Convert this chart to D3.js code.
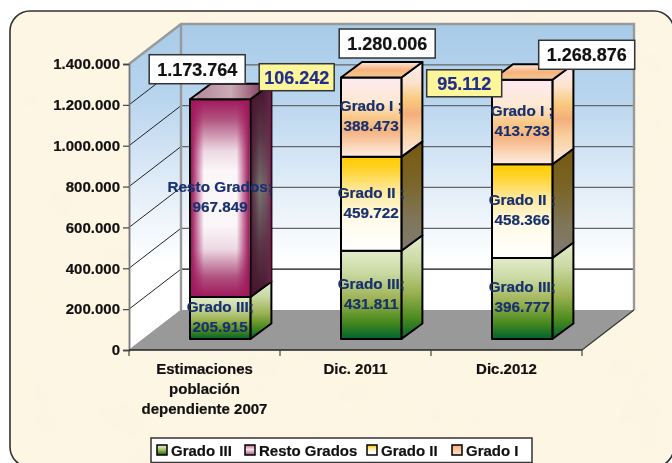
<!DOCTYPE html>
<html><head><meta charset="utf-8">
<script src="https://cdn.jsdelivr.net/npm/d3@7"></script>
<style>html,body{margin:0;padding:0;background:#fff;overflow:hidden}svg{display:block;font-family:"Liberation Sans",Arial,sans-serif;font-weight:bold;filter:blur(0.35px)}svg text{stroke:currentColor;stroke-width:0.2px;paint-order:stroke}</style>
</head><body>
<svg id="c" width="672" height="463"></svg>
<script>
// ---- data ----
const categories = ["Estimaciones población dependiente 2007", "Dic. 2011", "Dic.2012"];
const categoryLines = [["Estimaciones", "población", "dependiente 2007"], ["Dic. 2011"], ["Dic.2012"]];
const seriesNames = ["Grado III", "Resto Grados", "Grado II", "Grado I"];
const labelNames = ["Grado III;", "Resto Grados;", "Grado II ;", "Grado I ;"];
const gradoIII = [205915, 431811, 396777];
const restoGrados = [967849, 0, 0];
const gradoII = [0, 459722, 458366];
const gradoI = [0, 388473, 413733];
const totals = ["1.173.764", "1.280.006", "1.268.876"];
const differences = ["106.242", "", "95.112"];
const yTicks = [0, 200000, 400000, 600000, 800000, 1000000, 1200000, 1400000];

// ---- layout ----
const W = 672, H = 463;
const plot = {left: 129, right: 582, bottom: 350, top: 64};
const wall = {dx: 52, dy: -40};
const barOffset = {dx: 15.7, dy: -11};
const barDepth = {dx: 21, dy: -15.5};
const totalBox = {w: 96, h: 29, dx: [-23, 16, 64.5], dy: [-30, -34, -25]};
const diffBox = {w: 75, h: 27, dx: [76.5, 0, -58], dy: [-22, 0, 3.5]};

const svg = d3.select("#c");
const defs = svg.append("defs");
function grad(id, stops, o) {
  o = Object.assign({x1: 0, y1: 0, x2: 0, y2: 1}, o || {});
  const g = defs.append("linearGradient").attr("id", id);
  for (const k of ["x1", "y1", "x2", "y2"]) g.attr(k, o[k]);
  if (o.user) g.attr("gradientUnits", "userSpaceOnUse");
  stops.forEach(s => g.append("stop").attr("offset", s[0]).attr("stop-color", s[1]).attr("stop-opacity", s[2] === undefined ? 1 : s[2]));
}
grad("wallG", [[0, "#a8cbe8"], [0.3, "#b9d5ee"], [0.65, "#e2edf8"], [0.95, "#ffffff"], [1, "#ffffff"]], {user: 1, x1: 0, y1: 25, x2: 0, y2: 275});
grad("f0", [[0, "#e2ecca"], [0.25, "#cbd9a4"], [0.55, "#9cb252"], [0.8, "#4a8a1e"], [1, "#00632f"]]);
grad("f1", [[0, "#a0175c"], [0.1, "#b0527f"], [0.26, "#ecd8e2"], [0.36, "#fbf6f8"], [0.64, "#fbf6f8"], [0.76, "#ecd8e2"], [0.9, "#b0527f"], [1, "#a0175c"]]);
grad("f1o", [[0, "#a0175c", 1], [0.05, "#a0175c", 0.8], [0.22, "#a0175c", 0], [0.78, "#a0175c", 0], [0.95, "#a0175c", 0.8], [1, "#a0175c", 1]], {x2: 1, y2: 0});
grad("s1", [[0, "#43142c"], [0.25, "#5a3a48"], [0.5, "#7a7672"], [0.75, "#5a3a48"], [1, "#43142c"]]);
grad("s1o", [[0, "#4a1430", 0.9], [0.45, "#4a1430", 0], [0.75, "#6e2048", 0.3], [1, "#7a2050", 0.9]], {x2: 1, y2: 0});
grad("t1", [[0, "#ffffff"], [0.1, "#b58aa0"], [0.5, "#c9acb4"], [0.85, "#8e4a68"], [1, "#a0175c"]], {x2: 1, y2: 0});
grad("f2", [[0, "#ffcc00"], [0.12, "#ffd227"], [0.35, "#fee89a"], [0.65, "#fffbe8"], [1, "#ffffff"]]);
grad("s2", [[0, "#75590f"], [0.35, "#7a6426"], [0.7, "#7f7658"], [1, "#807a70"]]);
grad("f3", [[0, "#fdeaf3"], [0.3, "#fde9d2"], [0.5, "#f9c98a"], [0.68, "#f5b382"], [0.88, "#fbd9bc"], [1, "#fdebe6"]]);
grad("s3", [[0, "#fdeaf3"], [0.22, "#fce3cc"], [0.4, "#f9c97c"], [0.55, "#f4ae7c"], [0.72, "#f9cf9e"], [1, "#fdeae0"]]);
grad("t3", [[0, "#fde8e0"], [0.5, "#f6b27c"], [1, "#f5ca94"]]);
grad("leg1", [[0, "#c06d98"], [0.45, "#f6e0ea"], [1, "#b04f82"]]);
grad("leg3", [[0, "#f5ad76"], [1, "#fde5cc"]]);

// paper texture
const tex = defs.append("filter").attr("id", "paper").attr("x", 0).attr("y", 0).attr("width", 1).attr("height", 1);
tex.append("feTurbulence").attr("type", "fractalNoise").attr("baseFrequency", 0.018).attr("numOctaves", 3).attr("seed", 4);
tex.append("feColorMatrix").attr("type", "matrix").attr("values", "0 0 0 0 0.97  0 0 0 0 0.90  0 0 0 0 0.74  0.6 0 0 0 -0.22");
defs.append("clipPath").attr("id", "card").append("rect").attr("x", 10).attr("y", 11).attr("width", 664).attr("height", 456).attr("rx", 20);

svg.append("rect").attr("x", 10).attr("y", 11).attr("width", 664).attr("height", 456).attr("rx", 20).attr("fill", "#fdf6e4");
svg.append("g").attr("clip-path", "url(#card)").append("rect").attr("x", 10).attr("y", 11).attr("width", 664).attr("height", 456).attr("filter", "url(#paper)");
svg.append("rect").attr("x", 10).attr("y", 11).attr("width", 664).attr("height", 456).attr("rx", 20).attr("fill", "none").attr("stroke", "#333").attr("stroke-width", 1.6);

// ---- scales ----
const y = d3.scaleLinear().domain([0, 1400000]).range([plot.bottom, plot.top]);
const x = d3.scaleBand().domain(categories).range([plot.left, plot.right]).paddingInner(0.6).paddingOuter(0.3);
const fmt = d3.formatLocale({decimal: ",", thousands: ".", grouping: [3], currency: ["", ""]}).format(",d");
const poly = pts => pts.map(p => p.join(",")).join(" ");

// ---- walls & floor ----
const g = svg.append("g");
const L = plot.left, R = plot.right, B = plot.bottom, T = plot.top, wx = wall.dx, wy = wall.dy;
g.append("polygon").attr("points", poly([[L + wx, T + wy], [R + wx, T + wy], [R + wx, B + wy], [L + wx, B + wy]])).attr("fill", "url(#wallG)");
g.append("polygon").attr("points", poly([[L, T], [L + wx, T + wy], [L + wx, B + wy], [L, B]])).attr("fill", "url(#wallG)");
g.append("polygon").attr("points", poly([[L, B], [R, B], [R + wx, B + wy], [L + wx, B + wy]])).attr("fill", "#999999");
// gridlines
const grid = yTicks.filter(t => t > 0 && t < 1400000);
g.selectAll(".gs").data(grid).join("line").attr("x1", L).attr("y1", y).attr("x2", L + wx).attr("y2", d => y(d) + wy).attr("stroke", "#222").attr("stroke-width", 1);
g.selectAll(".gb").data(grid).join("line").attr("x1", L + wx).attr("x2", R + wx).attr("y1", d => y(d) + wy).attr("y2", d => y(d) + wy)
  .attr("stroke", d => d < 300000 ? "#111" : "#666").attr("stroke-width", 1.2);
// frame
g.append("path").attr("d", `M${L},${T}L${L + wx},${T + wy}H${R + wx}V${B + wy}M${L + wx},${T + wy}V${B + wy}`).attr("fill", "none").attr("stroke", "#999").attr("stroke-width", 2.4);
g.append("path").attr("d", `M${L},${B}L${L + wx},${B + wy}`).attr("stroke", "#999").attr("stroke-width", 1);
g.append("path").attr("d", `M${R},${B}L${R + wx},${B + wy}`).attr("stroke", "#333").attr("stroke-width", 1.1).attr("fill", "none");

// ---- bars ----
const rows = categories.map((c, i) => ({cat: c, [seriesNames[0]]: gradoIII[i], [seriesNames[1]]: restoGrados[i], [seriesNames[2]]: gradoII[i], [seriesNames[3]]: gradoI[i]}));
const stack = d3.stack().keys(seriesNames)(rows);
const segs = [];
stack.forEach((s, si) => s.forEach((d, i) => { if (d[1] > d[0]) segs.push({si, i, v0: d[0], v1: d[1], value: d[1] - d[0], cat: categories[i]}); }));
segs.sort((a, b) => a.i - b.i || a.si - b.si);
const isTop = d => !segs.some(o => o.i === d.i && o.si > d.si);
const sideFill = ["url(#f0)", "url(#s1)", "url(#s2)", "url(#s3)"];
const frontFill = ["url(#f0)", "url(#f1)", "url(#f2)", "url(#f3)"];
const bars = svg.append("g");
const geom = d => {
  const x0 = x(d.cat) + barOffset.dx, x1 = x0 + x.bandwidth();
  return {x0, x1, yt: y(d.v1) + barOffset.dy, yb: y(d.v0) + barOffset.dy, dx: barDepth.dx, dy: barDepth.dy};
};
segs.forEach(d => {
  const s = geom(d), gs = bars.append("g").attr("stroke", "#000").attr("stroke-width", 2).attr("stroke-linejoin", "round");
  const side = poly([[s.x1, s.yt], [s.x1 + s.dx, s.yt + s.dy], [s.x1 + s.dx, s.yb + s.dy], [s.x1, s.yb]]);
  gs.append("polygon").attr("points", side).attr("fill", sideFill[d.si]);
  if (d.si === 1) gs.append("polygon").attr("points", side).attr("fill", "url(#s1o)").attr("stroke", "none");
  gs.append("rect").attr("x", s.x0).attr("y", s.yt).attr("width", s.x1 - s.x0).attr("height", s.yb - s.yt).attr("fill", frontFill[d.si]);
  if (d.si === 1) gs.append("rect").attr("x", s.x0 + 1).attr("y", s.yt + 1).attr("width", s.x1 - s.x0 - 2).attr("height", s.yb - s.yt - 2).attr("fill", "url(#f1o)").attr("stroke", "none");
  if (isTop(d)) gs.append("polygon").attr("points", poly([[s.x0, s.yt], [s.x0 + s.dx, s.yt + s.dy], [s.x1 + s.dx, s.yt + s.dy], [s.x1, s.yt]]))
    .attr("fill", d.si === 1 ? "url(#t1)" : "url(#t3)");
});

// ---- axes ----
const ya = svg.append("g").attr("transform", `translate(${L},0)`)
  .call(d3.axisLeft(y).tickValues(yTicks).tickFormat(fmt).tickSize(6).tickPadding(3));
ya.select(".domain").attr("stroke", "#777").attr("stroke-width", 1.8);
ya.selectAll(".tick line").attr("stroke", "#444").attr("stroke-width", 1.2);
ya.selectAll("text").attr("font-family", "Liberation Sans").attr("font-weight", "bold").attr("font-size", 15).attr("fill", "#111").style("color", "#111");

const edges = d3.range(categories.length + 1).map(i => L + i * x.step());
svg.append("line").attr("x1", L).attr("x2", R).attr("y1", B).attr("y2", B).attr("stroke", "#222").attr("stroke-width", 1.6);
svg.selectAll(".xt").data(edges).join("line").attr("x1", d => d).attr("x2", d => d).attr("y1", B).attr("y2", B + 6).attr("stroke", "#444").attr("stroke-width", 1.2);
const cl = svg.selectAll(".cl").data(categories).join("text").attr("text-anchor", "middle").attr("font-size", 15).attr("fill", "#111").style("color", "#111");
cl.each(function (c, i) {
  categoryLines[i].forEach((t, j) => d3.select(this).append("tspan").attr("x", x(c) + x.bandwidth() / 2).attr("y", 374 + j * 20).text(t));
});

// ---- data labels ----
const dl = svg.append("g").attr("text-anchor", "middle").attr("font-size", 15.3).attr("fill", "#17306f").style("color", "#17306f");
segs.forEach(d => {
  const s = geom(d), cx = (s.x0 + s.x1) / 2, mid = (s.yt + s.yb) / 2;
  dl.append("text").attr("x", cx).attr("y", mid - 6).text(labelNames[d.si]);
  dl.append("text").attr("x", cx).attr("y", mid + 14).text(fmt(d.value));
});

// ---- callouts ----
function box(cx, cy, w, h, fill, color, txt) {
  svg.append("rect").attr("x", cx - w / 2).attr("y", cy - h / 2).attr("width", w).attr("height", h).attr("fill", fill).attr("stroke", "#333").attr("stroke-width", 1.5);
  svg.append("text").attr("x", cx).attr("y", cy + 6.5).attr("text-anchor", "middle").attr("font-size", 18).attr("fill", color).style("color", color).text(txt);
}
const barTop = i => y(d3.sum([gradoIII[i], restoGrados[i], gradoII[i], gradoI[i]])) + barOffset.dy;
const barMid = i => x(categories[i]) + barOffset.dx + x.bandwidth() / 2;
differences.forEach((t, i) => { if (t) box(barMid(i) + diffBox.dx[i], barTop(i) + diffBox.dy[i], diffBox.w, diffBox.h, "#fdf59a", "#1f2d8c", t); });
totals.forEach((t, i) => box(barMid(i) + totalBox.dx[i], barTop(i) + totalBox.dy[i], totalBox.w, totalBox.h, "#fff", "#111", t));

// ---- legend ----
const leg = svg.append("g");
leg.append("rect").attr("x", 151).attr("y", 438).attr("width", 381).attr("height", 24.5).attr("fill", "#fff").attr("stroke", "#333").attr("stroke-width", 1.5);
const legX = [157, 245, 367, 452];
const legFill = ["url(#f0)", "url(#leg1)", "url(#f2)", "url(#leg3)"];
seriesNames.forEach((n, i) => {
  leg.append("rect").attr("x", legX[i]).attr("y", 445).attr("width", 10).attr("height", 10).attr("fill", legFill[i]).attr("stroke", "#000").attr("stroke-width", 1.5);
  leg.append("text").attr("x", legX[i] + 14).attr("y", 456).attr("font-size", 15).attr("fill", "#111").style("color", "#111").text(n);
});
</script>
</body></html>
